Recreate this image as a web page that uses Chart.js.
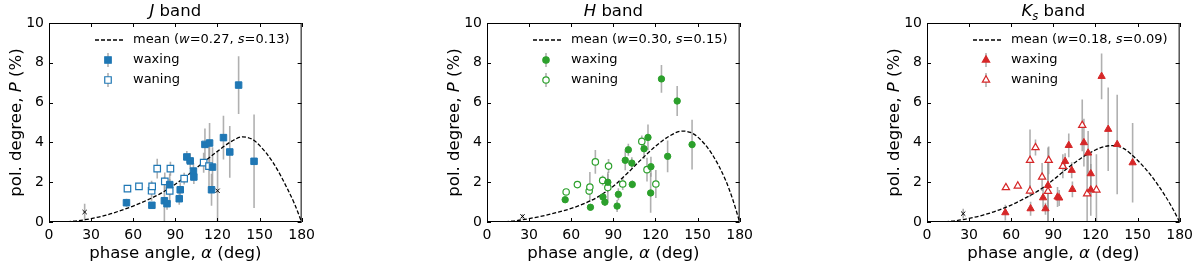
<!DOCTYPE html>
<html lang="en">
<head>
<meta charset="UTF-8">
<title>Polarization vs phase angle</title>
<script src="https://cdn.jsdelivr.net/npm/chart.js"></script>
<style>
    body { margin: 0; background: #fff; }
    #wrap { position: relative; width: 1200px; height: 263px; overflow: hidden; }
    #wrap canvas { position: absolute; top: 0; }
</style>
</head>
<body>
<div id="wrap">
    <canvas id="cJ" width="320" height="263" style="left:0px"></canvas>
    <canvas id="cH" width="320" height="263" style="left:438px"></canvas>
    <canvas id="cK" width="320" height="263" style="left:878px"></canvas>
</div>
<script>
// ---- axes ----
const xTicks = [0, 30, 60, 90, 120, 150, 180];
const yTicks = [0, 2, 4, 6, 8, 10];

// ---- J band ----
const jWaxA = [55.2, 73.3, 82.2, 84.1, 86.0, 92.8, 93.5, 98.2, 100.6, 102.9, 103.2, 111.1, 114.4, 116.5, 115.8, 124.3, 128.8, 135.1, 146.1];
const jWaxP = [0.97, 0.84, 1.07, 0.92, 1.88, 1.17, 1.62, 3.27, 3.07, 2.56, 2.26, 3.90, 3.97, 2.76, 1.62, 4.24, 3.52, 6.88, 3.05];
const jWaxE = [0.2, 0.15, 1.2, 0.3, 0.55, 0.3, 0.35, 0.3, 0.4, 0.4, 0.35, 0.8, 1.0, 1.0, 0.8, 1.1, 1.3, 1.45, 2.35];
const jWanA = [55.9, 64.1, 73.1, 73.5, 77.1, 82.5, 86.0, 86.5, 96.3, 110.2, 114.0];
const jWanP = [1.68, 1.79, 1.57, 1.79, 2.68, 2.04, 1.56, 2.68, 2.18, 2.98, 2.81];
const jWanE = [0.1, 0.1, 0.5, 0.2, 0.5, 0.45, 0.6, 0.35, 0.3, 0.5, 1.2];
const jOutA = [25.4, 120.1];
const jOutP = [0.5, 1.57];
const jOutE = [0.42, 1.95];
const jMeanA = [0, 10, 20, 30, 40, 50, 60, 70, 80, 90, 100, 110, 120, 130, 138, 145, 150, 160, 170, 175, 180];
const jMeanP = [0, 0.01, 0.06, 0.17, 0.33, 0.55, 0.8, 1.1, 1.45, 1.9, 2.42, 3.0, 3.55, 4.05, 4.28, 4.15, 3.85, 2.95, 1.65, 0.9, 0];

// ---- H band ----
const hWaxA = [55.7, 73.7, 82.6, 84.0, 86.1, 92.7, 93.6, 98.5, 100.7, 103.2, 103.5, 111.9, 114.7, 116.8, 116.6, 124.3, 128.7, 135.5, 146.1];
const hWaxP = [1.12, 0.74, 1.26, 1.0, 2.0, 0.8, 1.39, 3.10, 3.63, 2.96, 1.89, 3.68, 4.25, 2.78, 1.46, 7.19, 3.30, 6.08, 3.89];
const hWaxE = [0.15, 0.15, 0.2, 0.2, 0.5, 0.3, 0.3, 0.5, 0.3, 0.3, 0.2, 0.5, 0.65, 0.5, 1.0, 0.7, 0.8, 0.75, 1.25];
const hWanA = [56.4, 64.4, 72.8, 73.3, 77.2, 82.4, 86.1, 86.6, 96.7, 110.3, 114.0, 120.3];
const hWanP = [1.51, 1.88, 1.56, 1.76, 3.02, 2.09, 1.73, 2.81, 1.91, 4.05, 2.63, 1.91];
const hWanE = [0.1, 0.1, 0.2, 0.75, 0.6, 0.25, 0.7, 0.35, 0.3, 0.3, 0.6, 0.7];
const hOutA = [25.3];
const hOutP = [0.28];
const hOutE = [0.12];
const hMeanA = [0, 10, 20, 30, 40, 50, 60, 70, 80, 90, 100, 110, 120, 130, 139, 145, 150, 160, 170, 175, 180];
const hMeanP = [0, 0.01, 0.06, 0.17, 0.31, 0.48, 0.68, 0.95, 1.3, 1.8, 2.45, 3.15, 3.8, 4.32, 4.57, 4.5, 4.28, 3.45, 2.1, 1.15, 0];

// ---- Ks band ----
const kWaxA = [55.8, 73.8, 82.7, 84.4, 86.2, 93.0, 94.2, 98.4, 101.0, 103.1, 103.6, 111.8, 114.8, 116.7, 116.7, 124.4, 129.1, 135.5, 146.5];
const kWaxP = [0.47, 0.67, 1.22, 0.67, 1.84, 1.26, 1.21, 3.05, 3.85, 2.6, 1.64, 3.99, 3.47, 2.43, 1.62, 7.32, 4.66, 3.9, 2.98];
const kWaxE = [0.4, 0.35, 0.5, 0.3, 1.9, 0.5, 0.4, 0.4, 0.6, 0.4, 0.4, 1.2, 1.1, 1.1, 1.3, 1.15, 2.1, 2.5, 2.0];
const kWanA = [56.2, 64.7, 73.4, 73.4, 77.3, 82.0, 86.2, 86.7, 96.8, 110.6, 114.1, 120.7];
const kWanP = [1.73, 1.81, 3.10, 1.56, 3.74, 2.26, 1.54, 3.10, 2.80, 4.86, 1.42, 1.61];
const kWanE = [0.1, 0.1, 1.55, 0.3, 0.4, 0.7, 1.6, 0.7, 0.6, 1.3, 2.0, 1.8];
const kOutA = [25.8];
const kOutP = [0.42];
const kOutE = [0.25];
const kMeanA = [0, 10, 20, 30, 40, 50, 60, 70, 80, 90, 100, 110, 120, 126, 132, 140, 150, 160, 170, 175, 180];
const kMeanP = [0, 0.01, 0.06, 0.18, 0.35, 0.57, 0.85, 1.2, 1.6, 2.12, 2.7, 3.22, 3.62, 3.78, 3.84, 3.7, 3.1, 2.3, 1.28, 0.68, 0];

const FONT = '"DejaVu Sans", sans-serif';
const errColor = 'rgba(150,150,150,0.75)';

const pts = (a, p, e) => a.map((v, i) => ({ x: v, y: p[i], e: e ? e[i] : 0 }));

// draws a line of text made of plain / italic / subscript pieces
function richText(ctx, parts, x, y, size, align) {
    const font = s => (s ? 'italic ' : '') + (s === 'sub' ? size * 0.7 : size) + 'px ' + FONT;
    let w = 0;
    parts.forEach(([t, s]) => { ctx.font = font(s); w += ctx.measureText(t).width; });
    let cx = align === 'center' ? x - w / 2 : x;
    ctx.textAlign = 'left';
    ctx.textBaseline = 'middle';
    ctx.fillStyle = '#000';
    parts.forEach(([t, s]) => {
        ctx.font = font(s);
        ctx.fillText(t, cx, s === 'sub' ? y + size * 0.28 : y);
        cx += ctx.measureText(t).width;
    });
}

function makeChart(id, band) {
    const panel = {
        id: 'panel',
        beforeDatasetsDraw(chart) {
            const { ctx, chartArea: a, scales: { x, y } } = chart;
            ctx.save();
            ctx.beginPath();
            ctx.rect(a.left, a.top, a.width, a.height);
            ctx.clip();
            ctx.strokeStyle = errColor;
            ctx.lineWidth = 1.6;
            chart.data.datasets.forEach(ds => {
                if (!ds.errBars) return;
                ds.data.forEach(p => {
                    const px = x.getPixelForValue(p.x);
                    ctx.beginPath();
                    ctx.moveTo(px, y.getPixelForValue(p.y - p.e));
                    ctx.lineTo(px, y.getPixelForValue(p.y + p.e));
                    ctx.stroke();
                });
            });
            ctx.restore();
        },
        afterDraw(chart) {
            const { ctx, chartArea: a, scales: { x, y } } = chart;
            ctx.save();
            // frame + inward ticks
            ctx.strokeStyle = '#000';
            ctx.lineWidth = 1;
            ctx.strokeRect(a.left + 0.5, a.top + 0.5, a.width - 1, a.height - 1);
            ctx.beginPath();
            x.ticks.forEach(t => {
                const px = Math.round(x.getPixelForValue(t.value)) + 0.5;
                ctx.moveTo(px, a.bottom); ctx.lineTo(px, a.bottom - 4);
                ctx.moveTo(px, a.top); ctx.lineTo(px, a.top + 4);
            });
            y.ticks.forEach(t => {
                const py = Math.round(y.getPixelForValue(t.value)) + 0.5;
                ctx.moveTo(a.left, py); ctx.lineTo(a.left + 4, py);
                ctx.moveTo(a.right, py); ctx.lineTo(a.right - 4, py);
            });
            ctx.stroke();

            // title and axis titles
            richText(ctx, band.title, (a.left + a.right) / 2, 12, 16.5, 'center');
            richText(ctx, [['phase angle, ', ''], ['α', 'i'], [' (deg)', '']], (a.left + a.right) / 2, 254, 16.6, 'center');
            ctx.save();
            ctx.translate(a.left - 32, (a.top + a.bottom) / 2);
            ctx.rotate(-Math.PI / 2);
            richText(ctx, [['pol. degree, ', ''], ['P', 'i'], [' (%)', '']], 0, 0, 16.6, 'center');
            ctx.restore();

            // legend
            const lx = a.left, ly = a.top;
            ctx.strokeStyle = '#000';
            ctx.lineWidth = 1.3;
            ctx.setLineDash([4, 2]);
            ctx.beginPath();
            ctx.moveTo(lx + 46, ly + 17); ctx.lineTo(lx + 74, ly + 17);
            ctx.stroke();
            ctx.setLineDash([]);
            richText(ctx, band.meanLabel, lx + 84, ly + 17, 13, 'left');
            [[ly + 37, band.color, 'waxing'], [ly + 57, '#fff', 'waning']].forEach(([ry, fill, label]) => {
                ctx.strokeStyle = errColor;
                ctx.lineWidth = 1.6;
                ctx.beginPath();
                ctx.moveTo(lx + 59, ry - 7); ctx.lineTo(lx + 59, ry + 7);
                ctx.stroke();
                ctx.fillStyle = fill;
                ctx.strokeStyle = band.color;
                ctx.lineWidth = 1.2;
                Chart.helpers.drawPoint(ctx, { pointStyle: band.marker, radius: band.radius, rotation: 0, borderWidth: 1.2 }, lx + 59, ry);
                richText(ctx, [[label, '']], lx + 84, ry, 13, 'left');
            });
            ctx.restore();
        }
    };

    return new Chart(document.getElementById(id), {
        data: {
            datasets: [
                {
                    type: 'line',
                    data: pts(band.meanA, band.meanP),
                    borderColor: '#000',
                    borderWidth: 1.3,
                    borderDash: [4, 2],
                    pointRadius: 0,
                    cubicInterpolationMode: 'monotone',
                    order: 5
                },
                {
                    type: 'scatter',
                    data: pts(band.outA, band.outP, band.outE),
                    errBars: true,
                    pointStyle: 'crossRot',
                    pointRadius: 3,
                    borderColor: '#000',
                    borderWidth: 1,
                    order: 3
                },
                {
                    type: 'scatter',
                    data: pts(band.wanA, band.wanP, band.wanE),
                    errBars: true,
                    pointStyle: band.marker,
                    pointRadius: band.radius,
                    backgroundColor: '#fff',
                    borderColor: band.color,
                    borderWidth: 1.2,
                    order: 2
                },
                {
                    type: 'scatter',
                    data: pts(band.waxA, band.waxP, band.waxE),
                    errBars: true,
                    pointStyle: band.marker,
                    pointRadius: band.radius,
                    backgroundColor: band.color,
                    borderColor: band.color,
                    borderWidth: 1,
                    order: 1
                }
            ]
        },
        options: {
            responsive: false,
            animation: false,
            events: [],
            layout: { padding: { top: 23, left: 0, right: 320 - 49 - band.plotW, bottom: 0 } },
            plugins: { legend: { display: false }, title: { display: false }, tooltip: { enabled: false } },
            scales: {
                x: {
                    type: 'linear', min: 0, max: 180,
                    afterBuildTicks: s => { s.ticks = xTicks.map(v => ({ value: v })); },
                    afterFit: s => { s.height = 41; },
                    grid: { display: false, drawTicks: false },
                    border: { display: false },
                    ticks: { color: '#000', padding: 5, font: { family: FONT, size: 14 } }
                },
                y: {
                    type: 'linear', min: 0, max: 10,
                    afterBuildTicks: s => { s.ticks = yTicks.map(v => ({ value: v })); },
                    afterFit: s => { s.width = 49; },
                    grid: { display: false, drawTicks: false },
                    border: { display: false },
                    ticks: { color: '#000', padding: 5, font: { family: FONT, size: 14 } }
                }
            }
        },
        plugins: [panel]
    });
}

const meanText = (w, s) => [['mean (', ''], ['w', 'i'], ['=' + w + ', ', ''], ['s', 'i'], ['=' + s + ')', '']];

makeChart('cJ', {
    title: [['J', 'i'], [' band', '']], meanLabel: meanText('0.27', '0.13'),
    color: '#1f77b4', marker: 'rect', radius: 4.6, plotW: 255,
    waxA: jWaxA, waxP: jWaxP, waxE: jWaxE, wanA: jWanA, wanP: jWanP, wanE: jWanE,
    outA: jOutA, outP: jOutP, outE: jOutE, meanA: jMeanA, meanP: jMeanP
});
makeChart('cH', {
    title: [['H', 'i'], [' band', '']], meanLabel: meanText('0.30', '0.15'),
    color: '#2ca02c', marker: 'circle', radius: 3.2, plotW: 257,
    waxA: hWaxA, waxP: hWaxP, waxE: hWaxE, wanA: hWanA, wanP: hWanP, wanE: hWanE,
    outA: hOutA, outP: hOutP, outE: hOutE, meanA: hMeanA, meanP: hMeanP
});
makeChart('cK', {
    title: [['K', 'i'], ['s', 'sub'], [' band', '']], meanLabel: meanText('0.18', '0.09'),
    color: '#d62728', marker: 'triangle', radius: 4.2, plotW: 256,
    waxA: kWaxA, waxP: kWaxP, waxE: kWaxE, wanA: kWanA, wanP: kWanP, wanE: kWanE,
    outA: kOutA, outP: kOutP, outE: kOutE, meanA: kMeanA, meanP: kMeanP
});
</script>
</body>
</html>
